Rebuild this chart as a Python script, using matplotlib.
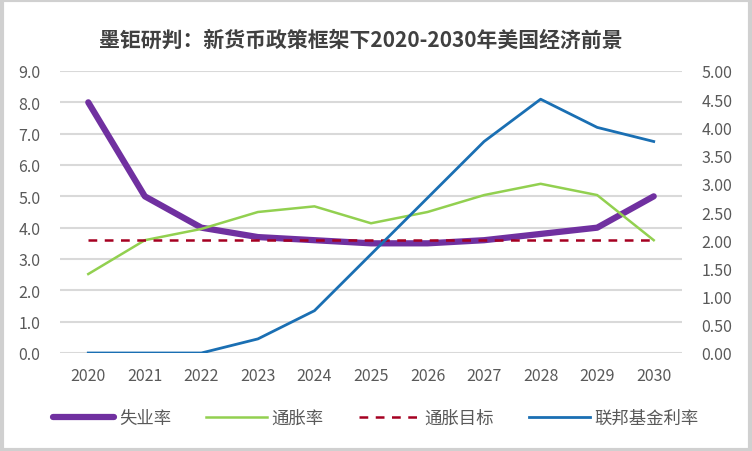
import matplotlib.pyplot as plt
from matplotlib.patches import Rectangle

plt.rcParams['font.family'] = ['Noto Sans CJK SC', 'DejaVu Sans']

years = ['2020', '2021', '2022', '2023', '2024', '2025', '2026', '2027', '2028', '2029', '2030']
unemployment = [8.0, 5.0, 4.0, 3.7, 3.6, 3.5, 3.5, 3.6, 3.8, 4.0, 5.0]      # left axis
inflation = [1.4, 2.0, 2.2, 2.5, 2.6, 2.3, 2.5, 2.8, 3.0, 2.8, 2.0]         # right axis
inflation_target = [2.0] * 11                                                 # right axis
fed_rate = [0.0, 0.0, 0.0, 0.25, 0.75, 1.75, 2.75, 3.75, 4.5, 4.0, 3.75]    # right axis

fig = plt.figure(figsize=(7.52, 4.52), dpi=100)
ax = fig.add_axes([60 / 752, 1 - 354 / 452, 622 / 752, 282 / 452])
ax2 = ax.twinx()

x = list(range(len(years)))
grey_text = '#595959'

# left axis + grid
ax.set_ylim(0, 9)
ax.set_yticks(list(range(10)))
ax.set_yticklabels([f'{i:.1f}' for i in range(10)])
ax.grid(axis='y', color='#D9D9D9', linewidth=1.5)
ax.set_axisbelow(True)
ax.set_xlim(-0.5, len(years) - 0.5)
ax.set_xticks(x)
ax.set_xticklabels(years)

# right axis
ax2.set_ylim(0, 5)
ax2.set_yticks([i * 0.5 for i in range(11)])
ax2.set_yticklabels([f'{i * 0.5:.2f}' for i in range(11)])

for a in (ax, ax2):
    for s in a.spines.values():
        s.set_visible(False)
    a.tick_params(length=0, labelsize=11.5, colors=grey_text)
ax.tick_params(axis='x', pad=10)
ax.tick_params(axis='y', pad=14)
ax2.tick_params(axis='y', pad=14)

# unemployment goes on the left scale, but is drawn on ax2 (rescaled) so it sits underneath
l1, = ax2.plot(x, [u * 5 / 9 for u in unemployment], color='#7030A0', linewidth=4.5,
               solid_capstyle='round', solid_joinstyle='round', label='失业率')
l2, = ax2.plot(x, inflation, color='#92D050', linewidth=1.8, label='通胀率')
l3, = ax2.plot(x, inflation_target, color='#A50021', linewidth=1.8, linestyle=(0, (3.5, 3)), label='通胀目标')
l4, = ax2.plot(x, fed_rate, color='#1A6FB3', linewidth=2.0, label='联邦基金利率')

fig.text(0.48, 1 - 40 / 452, '墨钜研判：新货币政策框架下2020-2030年美国经济前景', ha='center', va='center',
         fontsize=15, color='#404040', fontweight='bold')

fig.legend(handles=[l1, l2, l3, l4], loc='center', bbox_to_anchor=(0.5, 1 - 419 / 452), ncol=4,
           frameon=False, fontsize=12.5, labelcolor=grey_text, handlelength=3.5, handletextpad=0.3,
           columnspacing=2.0)

fig.patches.append(Rectangle((0.002, 0.003), 0.996, 0.994, transform=fig.transFigure, fill=False,
                             edgecolor='#D0D0D0', linewidth=3))

fig.savefig('out.png', dpi=100)
